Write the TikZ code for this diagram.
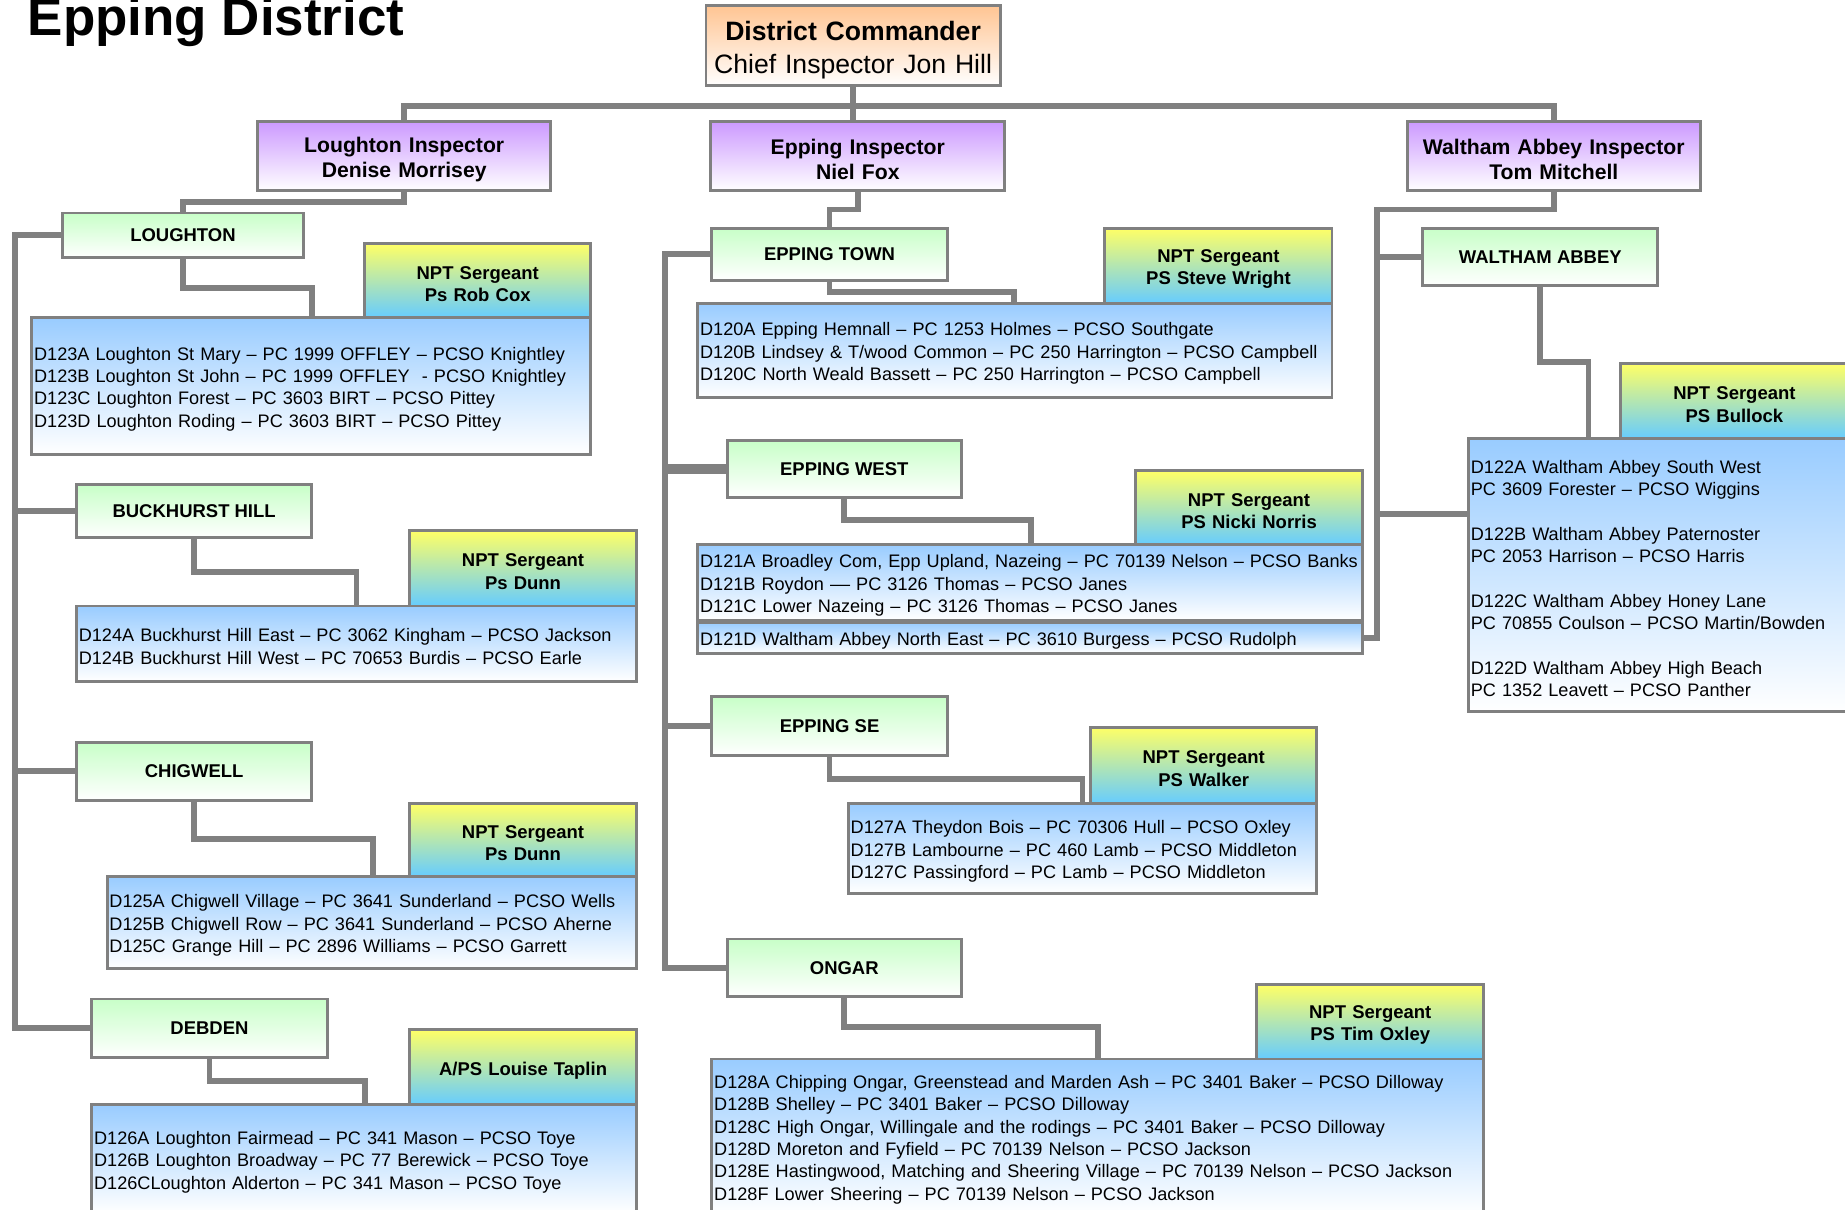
\documentclass[tikz,border=0pt]{standalone}
\usepackage{fontspec}
\setmainfont{Liberation Sans}
\usetikzlibrary{backgrounds}
\definecolor{linegray}{HTML}{808080}
\definecolor{cmdorange}{HTML}{FFC593}
\definecolor{insppurple}{HTML}{CC99FF}
\definecolor{areagreen}{HTML}{C8FFC8}
\definecolor{sgyellow}{HTML}{FFFF66}
\definecolor{sgblue}{HTML}{66CCFF}
\definecolor{wardblue}{HTML}{99CCFF}
\tikzset{
	box/.style={draw=linegray, line width=2.5pt, anchor=north west, inner sep=0pt, outer sep=0pt},
	lowered/.style={execute at begin node={\rule{0pt}{1.05em}}},
	chief/.style={box, lowered, top color=cmdorange, bottom color=white, align=center, text width=#1, font=\fontsize{22.6}{28}\selectfont},
	insp/.style={box, lowered, top color=insppurple, bottom color=white, align=center, text width=#1, font=\fontsize{18}{21}\selectfont\bfseries},
	area/.style={box, top color=areagreen, bottom color=white, font=\fontsize{15.7}{19}\selectfont\bfseries},
	sarge/.style={box, lowered, top color=sgyellow, bottom color=sgblue, align=center, text width=#1, font=\fontsize{15.7}{19}\selectfont\bfseries},
	ward/.style={box, lowered, top color=wardblue, bottom color=white, align=left, inner xsep=2pt, text width=#1, font=\fontsize{15.4}{19}\selectfont},
	link/.style={draw=linegray, line width=5pt},
}
\begin{document}
\begin{tikzpicture}[x=1pt, y=-1pt]
				\useasboundingbox (0,0) rectangle (1568,1028);
				\node[anchor=base west, font=\fontsize{45}{50}\selectfont\bfseries] (title) at (20,30) {Epping District};
				\node[chief=250pt, minimum height=68] (cmd) at (600,5) {\textbf{District Commander}\\Chief Inspector Jon Hill};
				\node[insp=249pt, minimum height=59] (inspL) at (219,103) {Loughton Inspector\\Denise Morrisey};
				\node[insp=250pt, minimum height=59] (inspE) at (604,103) {Epping Inspector\\Niel Fox};
				\node[insp=249pt, minimum height=59] (inspW) at (1196,103) {Waltham Abbey Inspector\\Tom Mitchell};
				\node[area, minimum width=205, minimum height=38] (lough) at (53,181) {LOUGHTON};
				\node[area, minimum width=200, minimum height=45] (buck) at (65,412) {BUCKHURST HILL};
				\node[area, minimum width=200, minimum height=49] (chig) at (65,631) {CHIGWELL};
				\node[area, minimum width=200, minimum height=50] (debden) at (78,849) {DEBDEN};
				\node[area, minimum width=200, minimum height=44] (etown) at (605,194) {EPPING TOWN};
				\node[area, minimum width=199, minimum height=49] (ewest) at (618,374) {EPPING WEST};
				\node[area, minimum width=200, minimum height=50] (ese) at (605,592) {EPPING SE};
				\node[area, minimum width=199, minimum height=49] (ongar) at (618,798) {ONGAR};
				\node[area, minimum width=200, minimum height=49] (wabbey) at (1209,194) {WALTHAM ABBEY};
				\node[sarge=192pt, minimum height=63] (sgRob) at (310,207) {NPT Sergeant\\Ps Rob Cox};
				\node[sarge=193pt, minimum height=64] (sgBuck) at (348,451) {NPT Sergeant\\Ps Dunn};
				\node[sarge=193pt, minimum height=62] (sgChig) at (348,683) {NPT Sergeant\\Ps Dunn};
				\node[sarge=193pt, minimum height=64] (sgTaplin) at (348,875) {A/PS Louise Taplin};
				\node[sarge=193pt, minimum height=64] (sgWright) at (939,194) {NPT Sergeant\\PS Steve Wright};
				\node[sarge=193pt, minimum height=63] (sgNorris) at (965,400) {NPT Sergeant\\PS Nicki Norris};
				\node[sarge=192pt, minimum height=65] (sgWalker) at (927,618) {NPT Sergeant\\PS Walker};
				\node[sarge=193pt, minimum height=63] (sgOxley) at (1068,837) {NPT Sergeant\\PS Tim Oxley};
				\node[sarge=194pt, minimum height=64] (sgBullock) at (1377,309) {NPT Sergeant\\PS Bullock};
				\node[ward=471pt, minimum height=116] (d123) at (27,270) {D123A Loughton St Mary – PC 1999 OFFLEY – PCSO Knightley\\D123B Loughton St John – PC 1999 OFFLEY\ \ - PCSO Knightley\\D123C Loughton Forest – PC 3603 BIRT – PCSO Pittey\\D123D Loughton Roding – PC 3603 BIRT – PCSO Pittey};
				\node[ward=472pt, minimum height=64] (d124) at (65,515) {D124A Buckhurst Hill East – PC 3062 Kingham – PCSO Jackson\\D124B Buckhurst Hill West – PC 70653 Burdis – PCSO Earle};
				\node[ward=446pt, minimum height=78] (d125) at (91,745) {D125A Chigwell Village – PC 3641 Sunderland – PCSO Wells\\D125B Chigwell Row – PC 3641 Sunderland – PCSO Aherne\\D125C Grange Hill – PC 2896 Williams – PCSO Garrett};
				\node[ward=459pt, minimum height=92] (d126) at (78,939) {D126A Loughton Fairmead – PC 341 Mason – PCSO Toye\\D126B Loughton Broadway – PC 77 Berewick – PCSO Toye\\D126CLoughton Alderton – PC 341 Mason – PCSO Toye};
				\node[ward=535pt, minimum height=80] (d120) at (593,258) {D120A Epping Hemnall – PC 1253 Holmes – PCSO Southgate\\D120B Lindsey \& T/wood Common – PC 250 Harrington – PCSO Campbell\\D120C North Weald Bassett – PC 250 Harrington – PCSO Campbell};
				\node[ward=561pt, minimum height=64] (d121) at (593,463) {D121A Broadley Com, Epp Upland, Nazeing – PC 70139 Nelson – PCSO Banks\\D121B Roydon –– PC 3126 Thomas – PCSO Janes\\D121C Lower Nazeing – PC 3126 Thomas – PCSO Janes};
				\node[ward=561pt, minimum height=26] (d121d) at (593,529) {D121D Waltham Abbey North East – PC 3610 Burgess – PCSO Rudolph};
				\node[ward=394pt, minimum height=76] (d127) at (721,683) {D127A Theydon Bois – PC 70306 Hull – PCSO Oxley\\D127B Lambourne – PC 460 Lamb – PCSO Middleton\\D127C Passingford – PC Lamb – PCSO Middleton};
				\node[ward=652pt, minimum height=132] (d128) at (605,900) {D128A Chipping Ongar, Greenstead and Marden Ash – PC 3401 Baker – PCSO Dilloway\\D128B Shelley – PC 3401 Baker – PCSO Dilloway\\D128C High Ongar, Willingale and the rodings – PC 3401 Baker – PCSO Dilloway\\D128D Moreton and Fyfield – PC 70139 Nelson – PCSO Jackson\\D128E Hastingwood, Matching and Sheering Village – PC 70139 Nelson – PCSO Jackson\\D128F Lower Sheering – PC 70139 Nelson – PCSO Jackson};
				\node[ward=319pt, minimum height=232] (d122) at (1248,373) {D122A Waltham Abbey South West\\PC 3609 Forester – PCSO Wiggins\\[19pt]D122B Waltham Abbey Paternoster\\PC 2053 Harrison – PCSO Harris\\[19pt]D122C Waltham Abbey Honey Lane\\PC 70855 Coulson – PCSO Martin/Bowden\\[19pt]D122D Waltham Abbey High Beach\\PC 1352 Leavett – PCSO Panther};
				\coordinate (spL) at (13,200);
				\coordinate (spE) at (565,216);
				\coordinate (spW) at (1170,178);
				\begin{scope}[on background layer]
					\draw[link] (cmd.south) -- (cmd.south |- inspE.north);
					\draw[link] (inspL.north) -- ++(0,-13) -| (inspW.north);
					\draw[link] (inspL.south) -- ++(0,10) -| (lough.north);
					\draw[link] (inspE.south) -- ++(0,16) -| (etown.north);
					\draw[link] (inspW.south) |- (spW) |- (d121d.east);
					\draw[link] (lough.west) -- (spL) |- (debden.west);
					\draw[link] (buck.west) -- (buck.west -| spL);
					\draw[link] (chig.west) -- (chig.west -| spL);
					\draw[link] (etown.west) -- (spE) |- (ongar.west);
					\draw[link, line width=8pt] (ewest.west) -- (ewest.west -| spE);
					\draw[link] (ese.west) -- (ese.west -| spE);
					\draw[link] (wabbey.west) -- (wabbey.west -| spW);
					\draw[link] ([yshift=52pt]d122.west) -- ++(-78,0);
					\draw[link] (lough.south) -- ++(0,26) -| ([xshift=238pt]d123.north west);
					\draw[link] (buck.south) -- ++(0,29) -| ([xshift=238pt]d124.north west);
					\draw[link] (chig.south) -- ++(0,33) -| ([xshift=226pt]d125.north west);
					\draw[link] (debden.south) -- ++(0,20) -| ([xshift=232pt]d126.north west);
					\draw[link] (etown.south) -- ++(0,10) -| ([xshift=269pt]d120.north west);
					\draw[link] (ewest.south) -- ++(0,19) -| ([xshift=283pt]d121.north west);
					\draw[link] (ese.south) -- ++(0,20) -| ([xshift=199pt]d127.north west);
					\draw[link] (ongar.south) -- ++(0,26) -| ([xshift=328pt]d128.north west);
					\draw[link] (wabbey.south) -- ++(0,65) -| ([xshift=102pt]d122.north west);
				\end{scope}
			\end{tikzpicture}
\end{document}
